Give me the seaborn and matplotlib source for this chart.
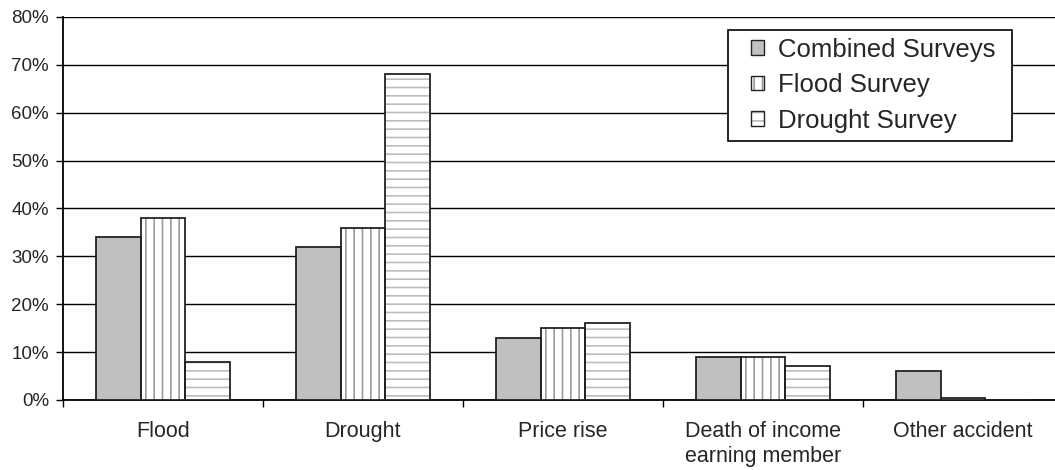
import pandas as pd
import seaborn as sns
import matplotlib.pyplot as plt
from matplotlib.patches import Rectangle, Patch
from matplotlib.ticker import FuncFormatter

# data (percent of households)
categories = ['Flood', 'Drought', 'Price rise', 'Death of income\nearning member', 'Other accident']
surveys = ['Combined Surveys', 'Flood Survey', 'Drought Survey']
combined = [34, 32, 13, 9, 6]
flood_survey = [38, 36, 15, 9, 0.5]
drought_survey = [8, 68, 16, 7, 0]

df = pd.DataFrame({
    'cause': categories * 3,
    'survey': [s for s in surveys for _ in categories],
    'value': combined + flood_survey + drought_survey,
})

sns.set_style('white')
plt.rcParams['font.family'] = ['Liberation Sans', 'DejaVu Sans']
plt.rcParams['hatch.linewidth'] = 1.2

fig = plt.figure(figsize=(10.55, 4.70), dpi=100)
ax = fig.add_axes([63 / 1055, 70 / 470, 1000 / 1055, 383 / 470])

sns.barplot(data=df, x='cause', y='value', hue='survey', order=categories,
            hue_order=surveys, palette=['#c0c0c0', 'white', 'white'],
            width=0.67, gap=0, legend=False, ax=ax, zorder=3)

# hatch styles: gray hatch lines inside, black outline on top
styles = [('', '#c0c0c0'), ('||', '#9a9a9a'), ('--', '#bdbdbd')]
for cont, (hatch, hcol) in zip(ax.containers, styles):
    for bar in cont:
        bar.set_hatch(hatch)
        bar.set_edgecolor(hcol)
        bar.set_linewidth(0)
        ax.add_patch(Rectangle(bar.get_xy(), bar.get_width(), bar.get_height(),
                               fill=False, edgecolor='#222222', lw=1.3, zorder=4))

ax.set_xlim(-0.5, 4.5)
ax.set_ylim(0, 80)
ax.set_yticks(range(0, 81, 10))
ax.yaxis.set_major_formatter(FuncFormatter(lambda v, p: f'{v:.0f}%'))
ax.grid(axis='y', color='black', lw=1.0, zorder=0)
ax.set_axisbelow(True)

# category boundary ticks, labels centred under groups
ax.set_xticks([i - 0.5 for i in range(6)])
ax.set_xticklabels([])
ax.set_xticks(range(5), minor=True)
ax.set_xticklabels(categories, minor=True, fontsize=15.5, linespacing=1.25)
ax.tick_params(axis='x', which='major', direction='out', length=5, width=1, color='black', bottom=True)
ax.tick_params(axis='x', which='minor', length=0, pad=15)
ax.tick_params(axis='y', direction='out', length=5, width=1, color='black', left=True, labelsize=13.5, pad=5)
ax.set_xlabel('')
ax.set_ylabel('')

for side in ['top', 'right']:
    ax.spines[side].set_visible(False)
for side in ['left', 'bottom']:
    ax.spines[side].set_color('black')
    ax.spines[side].set_linewidth(1.3)

# legend box drawn separately so it can have wider side padding
fig.add_artist(Rectangle((728 / 1055, 1 - 141 / 470), 284 / 1055, 111 / 470,
                         transform=fig.transFigure, facecolor='white',
                         edgecolor='black', lw=1.2, zorder=9))
handles = []
for hatch, hcol in styles:
    fc = '#c0c0c0' if hatch == '' else 'white'
    handles.append((Patch(facecolor=fc, edgecolor=hcol, hatch=hatch, lw=0),
                    Patch(fill=False, edgecolor='#222222', lw=1.0)))
leg = fig.legend(handles, surveys, loc='upper left', bbox_to_anchor=(743 / 1055, 440 / 470),
                 fontsize=18.5, frameon=False, handlelength=0.5, handleheight=0.5,
                 handletextpad=0.55, labelspacing=0.45, borderpad=0.3, borderaxespad=0)
leg.set_zorder(10)

fig.savefig('out.png', dpi=100)
